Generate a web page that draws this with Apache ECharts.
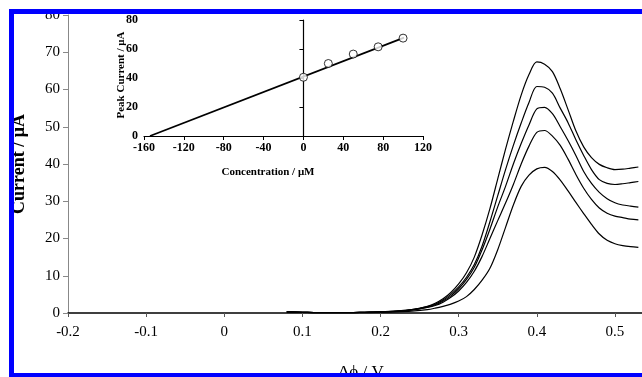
<!DOCTYPE html>
<html>
<head>
<meta charset="utf-8">
<script src="https://cdn.jsdelivr.net/npm/echarts@6/dist/echarts.min.js"></script>
<style>
  html, body { margin: 0; padding: 0; background: #fff; }
  #chart { width: 642px; height: 377px; }
</style>
</head>
<body>
<div id="chart"></div>
<script>
// main plot: potential (V) vs current (uA), five curves
const potential = [0.08, 0.10, 0.12, 0.14, 0.16, 0.18, 0.20, 0.22, 0.24, 0.26, 0.27, 0.28, 0.29, 0.30, 0.31, 0.32, 0.33, 0.34, 0.35, 0.36, 0.37, 0.38, 0.39, 0.40, 0.41, 0.42, 0.43, 0.44, 0.45, 0.46, 0.47, 0.48, 0.49, 0.50, 0.51, 0.52, 0.53]
const curve1 = [0.3, 0.2, 0.1, 0.1, 0.1, 0.2, 0.3, 0.5, 0.9, 1.8, 2.6, 3.8, 5.5, 7.8, 10.8, 15, 21, 28, 36, 44, 51.5, 58.5, 64, 67.4, 66.8, 64.8, 60.2, 54.6, 48.9, 44.6, 41.7, 39.9, 39.0, 38.5, 38.6, 38.9, 39.2]
const curve2 = [0.3, 0.2, 0.1, 0.1, 0.1, 0.2, 0.3, 0.5, 0.9, 1.7, 2.4, 3.5, 5.0, 7.0, 9.6, 13, 18, 24.5, 31.5, 38.5, 45, 51, 56.5, 60.8, 60.6, 59, 55, 51.1, 46.5, 42.3, 38.5, 35.8, 34.8, 34.5, 34.7, 35.0, 35.3]
const curve3 = [0.3, 0.2, 0.1, 0.1, 0.1, 0.2, 0.3, 0.5, 0.8, 1.6, 2.2, 3.2, 4.6, 6.5, 9, 12.3, 17, 22.5, 28.5, 34, 40, 45.5, 50.5, 54.8, 55.2, 53.5, 50, 46.3, 42.3, 38, 34.8, 32.4, 30.7, 29.6, 29, 28.7, 28.4]
const curve4 = [0.3, 0.2, 0.1, 0.1, 0.1, 0.2, 0.3, 0.4, 0.8, 1.5, 2.0, 2.9, 4.2, 5.9, 8.2, 11.2, 15.2, 20, 24.8, 29.5, 34.5, 40, 44.8, 48.5, 49.0, 47.5, 45, 41.3, 37.2, 33.5, 30.5, 28.2, 26.8, 26, 25.6, 25.2, 25]
const curve5 = [0.3, 0.2, 0.1, 0.1, 0.1, 0.1, 0.2, 0.3, 0.5, 0.9, 1.3, 1.8, 2.4, 3.2, 4.4, 6.3, 8.8, 12, 17, 23, 29, 34, 37, 38.7, 39.1, 38, 35.7, 32.8, 29.7, 26.7, 23.8, 21.2, 19.5, 18.6, 18.1, 17.8, 17.6]

// inset: peak current vs concentration
const concentration = [0, 25, 50, 75, 100]
const peakCurrent = [40.5, 50, 56.5, 61.5, 67.5]
const fitLine = [[-154, 0], [101, 67.8]]

const serif = '"Liberation Serif", "Times New Roman", serif'

const chart = echarts.init(document.getElementById('chart'))

const curveSeries = [curve1, curve2, curve3, curve4, curve5].map(c => ({
  type: 'line',
  xAxisIndex: 0,
  yAxisIndex: 0,
  data: potential.map((v, i) => [v, c[i]]),
  showSymbol: false,
  smooth: 0.3,
  lineStyle: { color: '#000', width: 1.2 },
  silent: true
}))

const option = {
  backgroundColor: '#fff',
  animation: false,
  grid: [
    { left: 68, top: 15, width: 586, height: 298, outerBoundsMode: 'none', containLabel: false },
    { left: 144, top: 20, width: 279, height: 116, outerBoundsMode: 'none', containLabel: false }
  ],
  xAxis: [
    {
      type: 'value',
      gridIndex: 0,
      min: -0.2,
      max: 0.55,
      interval: 0.1,
      name: 'Δϕ / V',
      nameLocation: 'middle',
      nameGap: 51,
      nameTextStyle: { fontFamily: serif, fontSize: 17, color: '#000' },
      axisLine: { onZero: false, lineStyle: { color: '#000', width: 1.5 } },
      axisTick: { length: 4, lineStyle: { color: '#555' } },
      axisLabel: { fontFamily: serif, fontSize: 15, color: '#000', margin: 12, showMaxLabel: false },
      splitLine: { show: false }
    },
    {
      type: 'value',
      gridIndex: 1,
      min: -160,
      max: 120,
      interval: 40,
      axisLine: { onZero: true, lineStyle: { color: '#000', width: 1.2 } },
      axisTick: { length: 4, lineStyle: { color: '#000' } },
      axisLabel: { fontFamily: serif, fontSize: 12, fontWeight: 'bold', color: '#000', margin: 6 },
      splitLine: { show: false }
    }
  ],
  yAxis: [
    {
      type: 'value',
      gridIndex: 0,
      min: 0,
      max: 80,
      interval: 10,
      name: 'Current / μA',
      nameLocation: 'middle',
      nameGap: 40,
      nameTextStyle: { fontFamily: serif, fontSize: 18, fontWeight: 'bold', color: '#000' },
      axisLine: { show: true, onZero: false, lineStyle: { color: '#888', width: 1 } },
      axisTick: { show: true, length: 5, lineStyle: { color: '#888' } },
      axisLabel: { fontFamily: serif, fontSize: 15, color: '#000', margin: 8 },
      splitLine: { show: false }
    },
    {
      type: 'value',
      gridIndex: 1,
      min: 0,
      max: 80,
      interval: 20,
      axisLine: { show: true, onZero: true, lineStyle: { color: '#000', width: 1.2 } },
      axisTick: { show: true, length: 4, lineStyle: { color: '#000' } },
      axisLabel: { fontFamily: serif, fontSize: 12, fontWeight: 'bold', color: '#000', margin: 6 },
      splitLine: { show: false }
    }
  ],
  series: [
    ...curveSeries,
    {
      type: 'line',
      xAxisIndex: 1,
      yAxisIndex: 1,
      data: fitLine,
      showSymbol: false,
      lineStyle: { color: '#000', width: 1.8 },
      silent: true
    },
    {
      type: 'scatter',
      xAxisIndex: 1,
      yAxisIndex: 1,
      data: concentration.map((c, i) => [c, peakCurrent[i]]),
      symbol: 'circle',
      symbolSize: 8,
      itemStyle: { color: '#fff', borderColor: '#000', borderWidth: 1 },
      silent: true,
      z: 3
    }
  ],
  graphic: [
    {
      type: 'text',
      x: 121, y: 75,
      rotation: Math.PI / 2,
      style: {
        text: 'Peak Current / μA',
        font: 'bold 11px ' + serif,
        fill: '#000',
        align: 'center',
        verticalAlign: 'middle'
      }
    },
    {
      type: 'text',
      x: 268, y: 172,
      style: {
        text: 'Concentration / μM',
        font: 'bold 11px ' + serif,
        fill: '#000',
        align: 'center',
        verticalAlign: 'middle'
      }
    },
    // blue frame
    { type: 'rect', shape: { x: 9, y: 9, width: 633, height: 5 }, style: { fill: '#0000ff' }, z: 100 },
    { type: 'rect', shape: { x: 9, y: 9, width: 5, height: 368 }, style: { fill: '#0000ff' }, z: 100 },
    { type: 'rect', shape: { x: 9, y: 373, width: 633, height: 4 }, style: { fill: '#0000ff' }, z: 100 }
  ]
}

chart.setOption(option)
</script>
</body>
</html>
